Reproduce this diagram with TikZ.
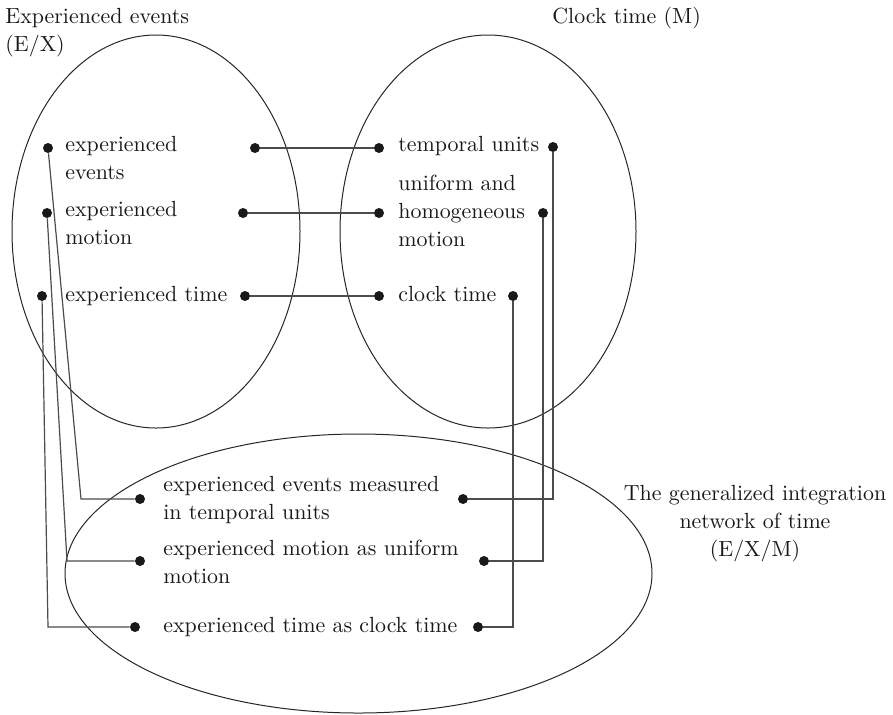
\documentclass[tikz,border=0pt]{standalone}
\begin{document}
\begin{tikzpicture}[x=0.5pt,y=-0.5pt,
  lbl/.style={font=\fontsize{10.95}{14}\selectfont, inner sep=0pt, text=black!90, align=left, anchor=base west},
  dot/.style={circle, fill=black!90, inner sep=0pt, minimum size=5pt},
  link/.style={draw=black!70, line width=0.6pt},
  set/.style={draw=black!85, line width=0.5pt}]
\useasboundingbox (0,0) rectangle (893,714);

% the three sets
\draw[set] (156,231.5) ellipse [x radius=72pt, y radius=98.25pt];
\draw[set] (488,231.5) ellipse [x radius=74pt, y radius=98.25pt];
\draw[set] (358.5,573.5) ellipse [x radius=146.75pt, y radius=69.75pt];

% set titles (base anchor = baseline of the last line)
\node[lbl] (tEX) at (5,51) {Experienced events\\(E/X)};
\node[lbl] (tM) at (552,23) {Clock time (M)};
\node[lbl, align=center, anchor=base] (tN) at (755,556) {The generalized integration\\network of time\\(E/X/M)};

% items of the experienced-events set
\node[lbl] (xev) at (65,179) {experienced\\events};
\node[lbl] (xmo) at (65,244) {experienced\\motion};
\node[lbl] (xti) at (65,301) {experienced time};

% items of the clock-time set
\node[lbl] (tu) at (398,151) {temporal units};
\node[lbl] (um) at (398,246) {uniform and\\homogeneous\\motion};
\node[lbl] (ct) at (398,301) {clock time};

% items of the integration network
\node[lbl] (bev) at (163,519) {experienced events measured\\in temporal units};
\node[lbl] (bmo) at (163,583) {experienced motion as uniform\\motion};
\node[lbl] (bti) at (163,632) {experienced time as clock time};

% connection dots
\node[dot] (a1) at (48,148) {};
\node[dot] (a2) at (47,213) {};
\node[dot] (a3) at (42,296) {};
\node[dot] (b1) at (255,148) {};
\node[dot] (b2) at (243,213) {};
\node[dot] (b3) at (245,296) {};
\node[dot] (c1) at (379,148) {};
\node[dot] (c2) at (379,213) {};
\node[dot] (c3) at (379,296) {};
\node[dot] (d1) at (553,147) {};
\node[dot] (d2) at (543,213) {};
\node[dot] (d3) at (513,296) {};
\node[dot] (e1) at (140,499) {};
\node[dot] (e2) at (140,561) {};
\node[dot] (e3) at (135,627) {};
\node[dot] (f1) at (463,499) {};
\node[dot] (f2) at (484,561) {};
\node[dot] (f3) at (478,627) {};

% bend points of the projection lines
\coordinate (k1) at (81,499);
\coordinate (k2) at (67,561);
\coordinate (k3) at (48,627);
\coordinate (m1) at (553,499);
\coordinate (m2) at (543,561);
\coordinate (m3) at (513,627);

% cross-space mappings
\draw[link] (b1) -- (c1);
\draw[link] (b2) -- (c2);
\draw[link] (b3) -- (c3);

% projections into the blend
\draw[link] (a1) -- (k1) -- (e1);
\draw[link] (a2) -- (k2) -- (e2);
\draw[link] (a3) -- (k3) -- (e3);
\draw[link] (d1) -- (m1) -- (f1);
\draw[link] (d2) -- (m2) -- (f2);
\draw[link] (d3) -- (m3) -- (f3);
\end{tikzpicture}
\end{document}
